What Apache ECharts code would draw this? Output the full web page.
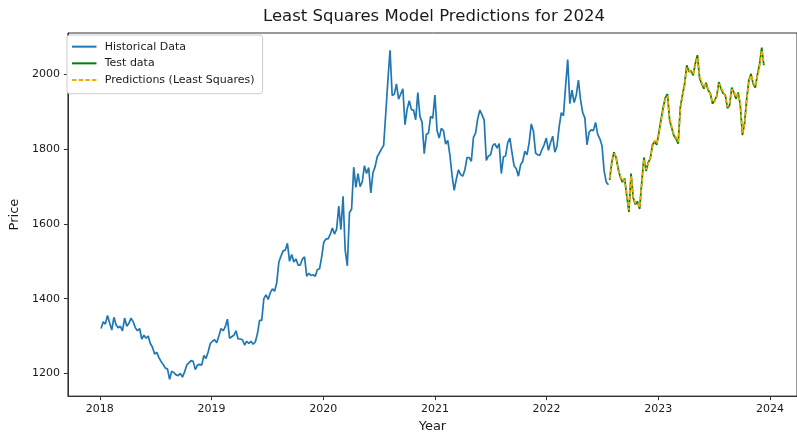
<!DOCTYPE html>
<html><head><meta charset="utf-8">
<script src="https://cdn.jsdelivr.net/npm/echarts@6/dist/echarts.min.js"></script>
<style>html,body{margin:0;padding:0;background:#fff}#c{width:797px;height:438px}</style>
</head><body><div id="c"></div>
<script>
// Weekly closes (Fridays) from histStart
const histStart = '2018-01-05';
const histPrices = [
 1320,1338,1332,1355,1335,1316,1350,1330,1322,1326,1314,1348,1326,1334,1348,1338,1322,1314,1320,1292,1302,1294,1300,1280,1270,1252,
 1256,1242,1232,1224,1214,1212,1184,1206,1202,1196,1194,1200,1190,1204,1222,1228,1234,1232,1210,1222,1224,1222,1248,1240,1258,1280,
 1286,1290,1282,1300,1320,1314,1325,1345,1294,1298,1302,1314,1292,1292,1290,1276,1286,1280,1286,1278,1284,1306,1342,1342,1400,1410,
 1398,1416,1426,1420,1442,1498,1514,1528,1530,1548,1500,1518,1498,1506,1490,1490,1506,1512,1460,1468,1462,1464,1460,1478,1480,1512,
 1552,1560,1560,1572,1589,1573,1586,1648,1585,1674,1530,1488,1630,1640,1752,1698,1735,1700,1713,1756,1735,1751,1683,1737,1753,1780,
 1790,1801,1810,1897,1985,2065,1944,1947,1975,1934,1948,1962,1866,1907,1930,1906,1905,1879,1952,1888,1872,1788,1840,1843,1888,1883,
 1945,1850,1830,1856,1850,1814,1824,1784,1730,1690,1720,1745,1732,1728,1745,1778,1778,1768,1832,1844,1882,1905,1892,1878,1770,1782,
 1785,1810,1815,1803,1815,1735,1780,1782,1818,1830,1790,1755,1748,1728,1758,1768,1795,1785,1818,1868,1848,1790,1785,1784,1800,1812,1830,
 1797,1818,1835,1792,1808,1860,1898,1890,1968,2040,1922,1958,1925,1945,1985,1932,1898,1884,1812,1846,1852,1850,1872,1840,1828,1810,
 1742,1712,1705
];
// Weekly test / prediction values from testStart
const testStart = '2022-07-26';
const testPrices = [
 1718,1765,1792,1778,1748,1725,1712,1722,1675,1632,1735,1670,1652,1660,1640,1712,1778,1742,1765,1775,1812,1820,1812,
 1845,1880,1912,1938,1948, 1878,1856,1836,1828, 1815,1912,1945,1975, 2025,2008,2010,1998, 2030,2052,1990,1975,1962,
 1978,1958,1950,1922, 1930,1942,1980,1962, 1950,1945,1910,1918,1965, 1952,1935,1952,1918, 1838,1870,1935,1985,2002,
 1975,1965,2000,2028, 2072,2025
];
const predPrices = [
 1722,1760,1788,1782,1744,1728,1716,1718,1680,1638,1728,1674,1656,1657,1645,1706,1772,1746,1761,1779,1806,1824,1816,
 1841,1874,1906,1934,1943, 1884,1860,1840,1832, 1820,1905,1940,1970, 2018,2012,2006,2002, 2024,2046,1996,1979,1966,
 1974,1962,1946,1926, 1926,1946,1975,1966, 1954,1941,1914,1922,1960, 1956,1939,1948,1922, 1844,1866,1930,1980,1998,
 1979,1969,1996,2022, 2065,2030
];
const xTicks = [2018,2019,2020,2021,2022,2023,2024];
const yTicks = [1200,1400,1600,1800,2000];
const legendNames = ['Historical Data','Test data','Predictions (Least Squares)'];

function decYear(ms){
  const d = new Date(ms); const y = d.getUTCFullYear();
  const s = Date.UTC(y,0,1), e = Date.UTC(y+1,0,1);
  return y + (ms - s) / (e - s);
}
function weekly(start, vals){
  const t0 = Date.parse(start + 'T00:00:00Z');
  return vals.map((v,i) => [decYear(t0 + i*7*86400000), v]);
}
const txt = '#1a1a1a';
const solidIcon = 'path://M0,0h22v1.8h-22z';
const dashIcon = 'path://M0,0h4v1.8h-4z M6,0h4v1.8h-4z M12,0h4v1.8h-4z M18,0h4v1.8h-4z';
const chart = echarts.init(document.getElementById('c'), null, {renderer:'canvas'});
chart.setOption({
  animation:false,
  backgroundColor:'#fff',
  textStyle:{fontFamily:'DejaVu Sans'},
  title:{text:'Least Squares Model Predictions for 2024', left:263, top:8, padding:0,
    textStyle:{fontFamily:'DejaVu Sans', fontSize:16.5, fontWeight:'normal', color:txt}},
  legend:{
    orient:'vertical', left:67, top:35, padding:[6,8,8,5], itemGap:5.4, itemWidth:25, itemHeight:2,
    backgroundColor:'#fff', borderColor:'#cccccc', borderWidth:1, borderRadius:3,
    textStyle:{fontFamily:'DejaVu Sans', fontSize:11, color:txt, padding:[0,0,0,3], lineHeight:11.3},
    data:[
      {name:legendNames[0], icon:solidIcon, itemStyle:{color:'#1f77b4'}},
      {name:legendNames[1], icon:solidIcon, itemStyle:{color:'#008000'}},
      {name:legendNames[2], icon:dashIcon, itemStyle:{color:'#ffa500'}}
    ]
  },
  grid:{left:64, right:-8, top:33, bottom:38, show:true, borderColor:'#333', borderWidth:1, backgroundColor:'transparent'},
  xAxis:{
    type:'value', min:2017.714, max:2024.242,
    name:'Year', nameLocation:'middle', nameGap:21,
    nameTextStyle:{fontFamily:'DejaVu Sans', fontSize:13, color:txt},
    axisLine:{show:true, lineStyle:{color:'#333', width:1}},
    axisTick:{show:true, length:4, lineStyle:{color:'#333'}, customValues:xTicks},
    axisLabel:{fontFamily:'DejaVu Sans', fontSize:11, color:txt, margin:8, customValues:xTicks,
      formatter:v => Number.isInteger(v) ? String(v) : ''},
    splitLine:{show:false}
  },
  yAxis:{
    type:'value', min:1139.1, max:2111.3,
    name:'Price', nameLocation:'middle', nameGap:40, nameRotate:90,
    nameTextStyle:{fontFamily:'DejaVu Sans', fontSize:13, color:txt},
    axisLine:{show:true, lineStyle:{color:'#333', width:1}},
    axisTick:{show:true, length:4, lineStyle:{color:'#333'}, customValues:yTicks},
    axisLabel:{fontFamily:'DejaVu Sans', fontSize:11, color:txt, margin:8, customValues:yTicks,
      formatter:v => (v % 200 === 0) ? String(v) : ''},
    splitLine:{show:false}
  },
  series:[
    {name:legendNames[0], type:'line', data:weekly(histStart, histPrices), symbol:'none', showSymbol:false,
      lineStyle:{color:'#1f77b4', width:1.7}, itemStyle:{color:'#1f77b4'}, z:2},
    {name:legendNames[1], type:'line', data:weekly(testStart, testPrices), symbol:'none', showSymbol:false,
      lineStyle:{color:'#008000', width:1.7}, itemStyle:{color:'#008000'}, z:3},
    {name:legendNames[2], type:'line', data:weekly(testStart, predPrices), symbol:'none', showSymbol:false,
      lineStyle:{color:'#ffa500', width:1.7, type:[4,2]}, itemStyle:{color:'#ffa500'}, z:4}
  ]
});
</script></body></html>
